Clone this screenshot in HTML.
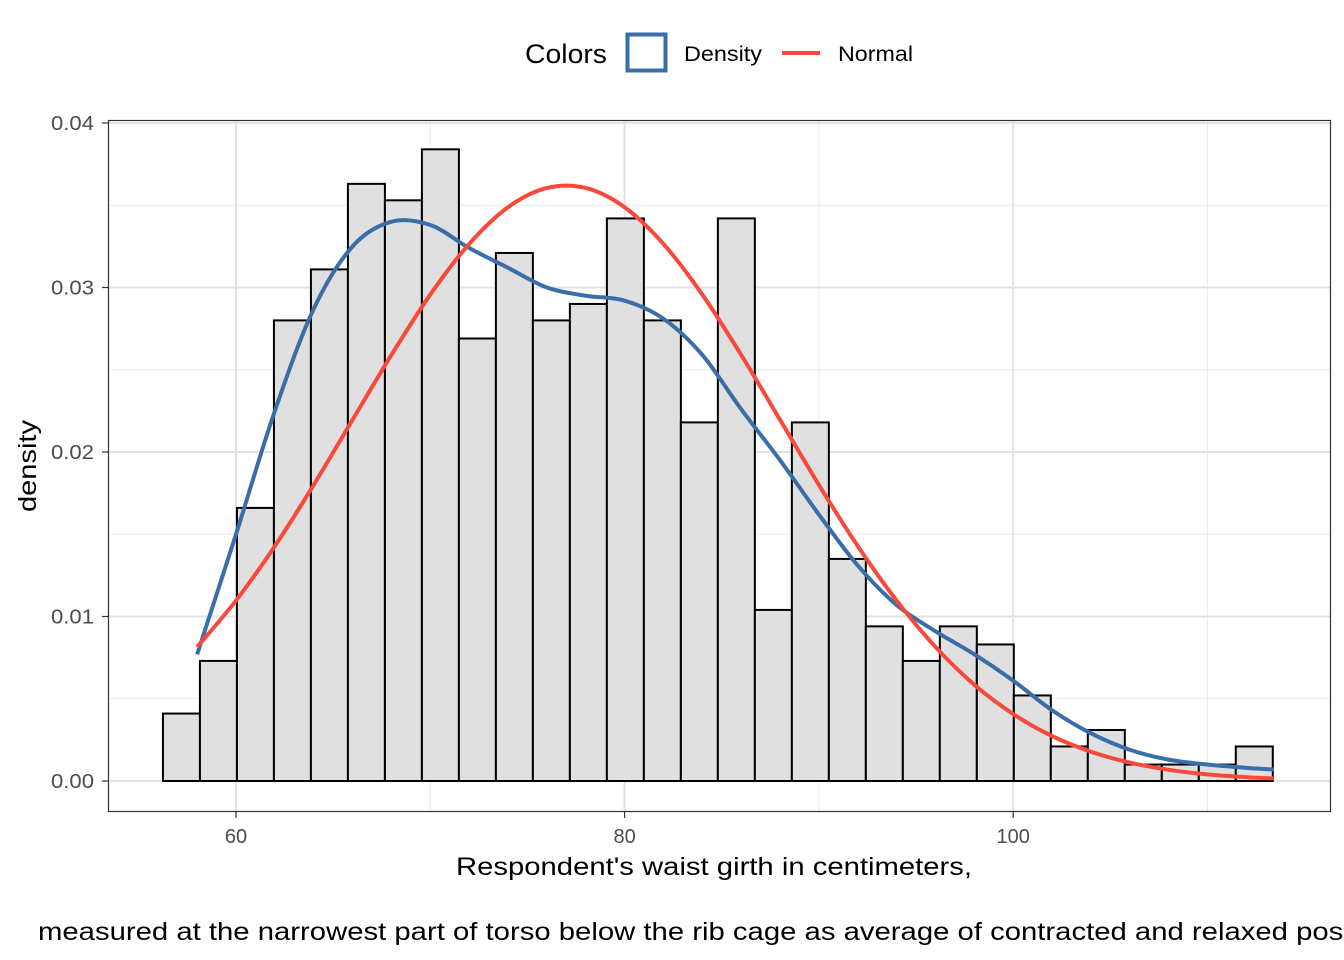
<!DOCTYPE html>
<html><head><meta charset="utf-8"><style>
html,body{margin:0;padding:0;background:#fff;width:1344px;height:960px;overflow:hidden}
svg text{font-family:"Liberation Sans",Arial,sans-serif}
</style></head><body>
<svg id="chart" width="1344" height="960" xmlns="http://www.w3.org/2000/svg">
<g id="grid"></g>
<g id="bars"></g>
<g id="curves"></g>
<rect x="108.5" y="120.5" width="1222" height="691" fill="none" stroke="#333" stroke-width="1.2"/>
<g id="axes"></g>
<text transform="translate(36,466) rotate(-90)" text-anchor="middle" font-size="25" fill="#000" textLength="92" lengthAdjust="spacingAndGlyphs">density</text>
<text x="456" y="875" font-size="25" fill="#000" textLength="516" lengthAdjust="spacingAndGlyphs">Respondent's waist girth in centimeters,</text>
<text x="38" y="940" font-size="25" fill="#000" textLength="1359" lengthAdjust="spacingAndGlyphs">measured at the narrowest part of torso below the rib cage as average of contracted and relaxed position</text>
<g>
<text x="525" y="63" font-size="27" fill="#000" textLength="82" lengthAdjust="spacingAndGlyphs">Colors</text>
<rect x="627.5" y="34.5" width="38" height="36" fill="#fff" stroke="#3A6EA8" stroke-width="4"/>
<text x="684" y="61" font-size="21" fill="#000" textLength="78" lengthAdjust="spacingAndGlyphs">Density</text>
<line x1="782" y1="53" x2="820" y2="53" stroke="#F8493B" stroke-width="4"/>
<text x="838" y="61" font-size="21" fill="#000" textLength="75" lengthAdjust="spacingAndGlyphs">Normal</text>
</g>
</svg>
<script>
const binStart = 56.24;
const binWidth = 1.904;
const binDensities = [0.0041,0.0073,0.0166,0.0280,0.0311,0.0363,0.0353,0.0384,0.0269,0.0321,0.0280,0.0290,0.0342,0.0280,0.0218,0.0342,0.0104,0.0218,0.0135,0.0094,0.0073,0.0094,0.0083,0.0052,0.0021,0.0031,0.0010,0.0010,0.0010,0.0021];
const densX = [58,60,62,64,66,68,70,72,74,76,78,80,82,84,86,88,90,92,94,96,98,100,102,104,106,108,110,112,113.4];
const densY = [0.0077,0.0150,0.0225,0.0287,0.0325,0.0340,0.0338,0.0324,0.0312,0.0300,0.0295,0.0292,0.0281,0.0259,0.0226,0.0195,0.0162,0.0131,0.0107,0.0091,0.0077,0.0061,0.0043,0.0029,0.0019,0.0013,0.0010,0.0008,0.0007];
const normX = [58,60,62,64,66,68,70,72,74,76,78,80,82,84,86,88,90,92,94,96,98,100,102,104,106,108,110,112,113.4];
const normY = [0.00815,0.01097,0.01428,0.0180,0.02196,0.0259,0.02957,0.03265,0.03488,0.03605,0.03605,0.03488,0.03265,0.02957,0.0259,0.02196,0.0180,0.01428,0.01097,0.00815,0.00585,0.00407,0.00273,0.00178,0.00112,0.00068,0.0004,0.00023,0.00016];
const xTicks = [60,80,100];
const xMinor = [70,90,110];
const yTicks = [0,0.01,0.02,0.03,0.04];
const yTickLabels = ["0.00","0.01","0.02","0.03","0.04"];
const yMinor = [0.005,0.015,0.025,0.035];

const NS="http://www.w3.org/2000/svg";
const X=v=>236+(v-60)*19.43;
const Y=v=>781-v*16450;
function mk(tag,attrs,parent){const e=document.createElementNS(NS,tag);for(const k in attrs)e.setAttribute(k,attrs[k]);parent.appendChild(e);return e;}
const grid=document.getElementById('grid'),bars=document.getElementById('bars'),curves=document.getElementById('curves'),axes=document.getElementById('axes');
xMinor.forEach(v=>{const l=mk('line',{x1:X(v),x2:X(v),y1:121,y2:811,stroke:'#ebebeb','stroke-width':1},grid);

});
yMinor.forEach(v=>{const l=mk('line',{x1:109,x2:1330,y1:Y(v),y2:Y(v),stroke:'#ebebeb','stroke-width':1},grid);

});
xTicks.forEach(v=>{const l=mk('line',{x1:X(v),x2:X(v),y1:121,y2:811,stroke:'#e3e3e3','stroke-width':2},grid);


const t=mk('line',{x1:X(v),x2:X(v),y1:812,y2:818,stroke:'#333','stroke-width':1.2},axes);


const tx=mk('text',{x:X(v),y:843,'text-anchor':'middle','font-size':20,fill:'#4d4d4d'},axes);tx.textContent=v;

});
yTicks.forEach((v,i)=>{const l=mk('line',{x1:109,x2:1330,y1:Y(v),y2:Y(v),stroke:'#e3e3e3','stroke-width':2},grid);


const t=mk('line',{x1:102,x2:108,y1:Y(v),y2:Y(v),stroke:'#333','stroke-width':1.2},axes);


const tx=mk('text',{x:94,y:Y(v)+7,'text-anchor':'end','font-size':20,fill:'#4d4d4d',textLength:43,lengthAdjust:'spacingAndGlyphs'},axes);tx.textContent=yTickLabels[i];

});
binDensities.forEach((d,i)=>{const x0=X(binStart+i*binWidth),x1=X(binStart+(i+1)*binWidth);
const r=mk('rect',{x:x0,y:Y(d),width:x1-x0,height:Y(0)-Y(d),fill:'#e0e0e0',stroke:'#000','stroke-width':2},bars);

});
function smooth(xs,ys){const p=xs.map((x,i)=>[X(x),Y(ys[i])]);let d='M'+p[0][0]+','+p[0][1];
for(let i=0;i<p.length-1;i++){const p0=p[Math.max(0,i-1)],p1=p[i],p2=p[i+1],p3=p[Math.min(p.length-1,i+2)];
d+=' C'+(p1[0]+(p2[0]-p0[0])/6)+','+(p1[1]+(p2[1]-p0[1])/6)+' '+(p2[0]-(p3[0]-p1[0])/6)+','+(p2[1]-(p3[1]-p1[1])/6)+' '+p2[0]+','+p2[1];}
return d;}
const dn=mk('path',{d:smooth(densX,densY),fill:'none',stroke:'#3A6EA8','stroke-width':4},curves);


const nm=mk('path',{d:smooth(normX,normY),fill:'none',stroke:'#F8493B','stroke-width':4},curves);


</script>
</body></html>
